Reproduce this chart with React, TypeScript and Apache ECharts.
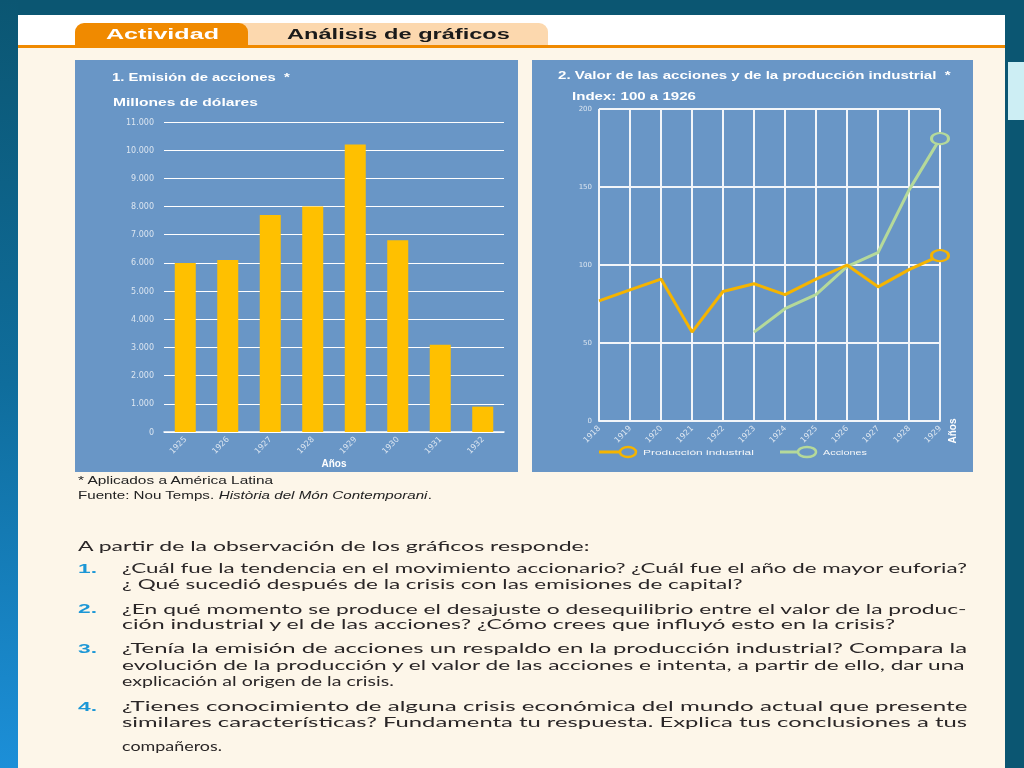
import React, { useEffect, useRef } from "react";
import * as echarts from "echarts";

// ---- Data ----
const emisionYears = ["1925", "1926", "1927", "1928", "1929", "1930", "1931", "1932"];
const emisionValues = [6000, 6100, 7700, 8000, 10200, 6800, 3100, 900];

const indexYears = ["1918", "1919", "1920", "1921", "1922", "1923", "1924", "1925", "1926", "1927", "1928", "1929"];
const produccionIndustrial = [77, 84, 91, 57, 83, 88, 81, 91, 100, 86, 97, 106];
const accionesIndex = [null, null, null, null, null, 57, 72, 81, 99, 108, 148, 181];

const headerTabs = ["Actividad", "Análisis de gráficos"];
const chartTitles = ["1. Emisión de acciones  *", "2. Valor de las acciones y de la producción industrial  *"];
const chartSubtitles = ["Millones de dólares", "Index: 100 a 1926"];
const seriesNames = ["Producción industrial", "Acciones"];
const axisNameYears = "Años";
const footnote = "* Aplicados a América Latina";
const sourceParts = ["Fuente: Nou Temps. ", "Història del Món Contemporani", "."];
const introLine = "A partir de la observación de los gráficos responde:";
const questionNumbers = ["1.", "2.", "3.", "4."];
const questionLines = [
  [
    "¿Cuál fue la tendencia en el movimiento accionario? ¿Cuál fue el año de mayor euforia?",
    "¿ Qué sucedió después de la crisis con las emisiones de capital?",
  ],
  [
    "¿En qué momento se produce el desajuste o desequilibrio entre el valor de la produc-",
    "ción industrial y el de las acciones? ¿Cómo crees que influyó esto en la crisis?",
  ],
  [
    "¿Tenía la emisión de acciones un respaldo en la producción industrial? Compara la",
    "evolución de la producción y el valor de las acciones e intenta, a partir de ello, dar una",
    "explicación al origen de la crisis.",
  ],
  [
    "¿Tienes conocimiento de alguna crisis económica del mundo actual que presente",
    "similares características? Fundamenta tu respuesta. Explica tus conclusiones a tus",
    "compañeros.",
  ],
];

export default function App() {
  const ref = useRef<HTMLDivElement>(null);

  useEffect(() => {
    const chart = echarts.init(ref.current!, null, { renderer: "svg" });

    const canvas = document.createElement("canvas");
    const ctx = canvas.getContext("2d")!;
    const measure = (text: string, size: number, family: string, weight = "normal", style = "normal") => {
      ctx.font = `${style} ${weight} ${size}px "${family}"`;
      return ctx.measureText(text).width;
    };

    const fitText = (
      text: string,
      x: number,
      y: number,
      width: number,
      o: { size: number; family: string; weight?: string; color: string; style?: string }
    ) => {
      const w = measure(text, o.size, o.family, o.weight || "normal", o.style || "normal");
      return {
        type: "text",
        x,
        y,
        scaleX: width / w,
        z: 50,
        style: {
          text,
          x: 0,
          y: 0,
          fill: o.color,
          fontSize: o.size,
          fontFamily: o.family,
          fontWeight: o.weight || "normal",
          fontStyle: o.style || "normal",
          align: "left",
          verticalAlign: "middle",
        },
      };
    };

    const panel = "#6996c6";
    const cream = "#fdf6e9";
    const orange = "#f08a00";
    const prodColor = "#f5b400";
    const accColor = "#b5d99a";
    const labelColor = "#dbe5f0";
    const gridWhite = "#f2f5f9";

    const graphics: any[] = [];
    // page background
    graphics.push({ type: "rect", z: -30, shape: { x: 0, y: 0, width: 1024, height: 768 }, style: { fill: "#0b5672" } });
    graphics.push({
      type: "rect",
      z: -29,
      shape: { x: 0, y: 0, width: 18, height: 768 },
      style: {
        fill: new echarts.graphic.LinearGradient(0, 0, 0, 1, [
          { offset: 0, color: "#0b5672" },
          { offset: 0.5, color: "#0f6d9c" },
          { offset: 1, color: "#1c8fd8" },
        ]),
      },
    });
    graphics.push({ type: "rect", z: -28, shape: { x: 1008, y: 62, width: 16, height: 58 }, style: { fill: "#cdeef4" } });
    graphics.push({ type: "rect", z: -28, shape: { x: 18, y: 15, width: 987, height: 753 }, style: { fill: cream } });
    graphics.push({ type: "rect", z: -27, shape: { x: 18, y: 15, width: 987, height: 31 }, style: { fill: "#ffffff" } });
    // tabs
    graphics.push({ type: "rect", z: -26, shape: { x: 230, y: 23, width: 318, height: 23, r: [0, 9, 0, 0] }, style: { fill: "#fcd8ae" } });
    graphics.push({ type: "rect", z: -25, shape: { x: 75, y: 23, width: 173, height: 23, r: [9, 9, 0, 0] }, style: { fill: orange } });
    graphics.push({ type: "rect", z: -24, shape: { x: 18, y: 45, width: 987, height: 3 }, style: { fill: orange } });
    graphics.push(fitText(headerTabs[0], 106, 34, 113, { size: 15, family: "Liberation Sans", weight: "bold", color: "#ffffff" }));
    graphics.push(fitText(headerTabs[1], 287, 34, 223, { size: 15, family: "Liberation Sans", weight: "bold", color: "#1a1a1a" }));
    // panels
    graphics.push({ type: "rect", z: -20, shape: { x: 75, y: 60, width: 443, height: 412 }, style: { fill: panel } });
    graphics.push({ type: "rect", z: -20, shape: { x: 532, y: 60, width: 441, height: 412 }, style: { fill: panel } });
    // chart titles
    graphics.push(fitText(chartTitles[0], 112, 78, 178, { size: 10, family: "Liberation Sans", weight: "bold", color: "#ffffff" }));
    graphics.push(fitText(chartSubtitles[0], 113, 102, 145, { size: 11, family: "Liberation Sans", weight: "bold", color: "#ffffff" }));
    graphics.push(fitText(chartTitles[1], 558, 75, 393, { size: 10, family: "Liberation Sans", weight: "bold", color: "#ffffff" }));
    graphics.push(fitText(chartSubtitles[1], 572, 96, 124, { size: 11, family: "Liberation Sans", weight: "bold", color: "#ffffff" }));
    // vertical Años on right chart
    graphics.push({
      type: "text",
      x: 952,
      y: 431,
      rotation: Math.PI / 2,
      z: 50,
      style: {
        text: axisNameYears,
        fill: "#ffffff",
        fontSize: 10,
        fontWeight: "bold",
        fontFamily: "Liberation Sans",
        align: "center",
        verticalAlign: "middle",
      },
    });
    // legend
    const legendY = 452;
    graphics.push({ type: "line", z: 40, shape: { x1: 599, y1: legendY, x2: 620, y2: legendY }, style: { stroke: prodColor, lineWidth: 3 } });
    graphics.push({ type: "ellipse", z: 41, shape: { cx: 628, cy: legendY, rx: 8, ry: 5 }, style: { fill: panel, stroke: prodColor, lineWidth: 2.5 } });
    graphics.push(fitText(seriesNames[0], 643, legendY, 111, { size: 8, family: "Liberation Sans", color: "#f4f6f8" }));
    graphics.push({ type: "line", z: 40, shape: { x1: 780, y1: legendY, x2: 799, y2: legendY }, style: { stroke: accColor, lineWidth: 3 } });
    graphics.push({ type: "ellipse", z: 41, shape: { cx: 807, cy: legendY, rx: 9, ry: 5 }, style: { fill: panel, stroke: accColor, lineWidth: 2.5 } });
    graphics.push(fitText(seriesNames[1], 823, legendY, 44, { size: 8, family: "Liberation Sans", color: "#f4f6f8" }));
    // footnotes
    graphics.push(fitText(footnote, 78, 481, 197, { size: 10, family: "Liberation Sans", color: "#222222" }));
    {
      const fs = 10;
      const fam = "Liberation Sans";
      const total =
        measure(sourceParts[0], fs, fam) + measure(sourceParts[1], fs, fam, "normal", "italic") + measure(sourceParts[2], fs, fam);
      graphics.push({
        type: "text",
        x: 78,
        y: 495,
        scaleX: 354 / total,
        z: 50,
        style: {
          text: `{n|${sourceParts[0]}}{i|${sourceParts[1]}}{n|${sourceParts[2]}}`,
          verticalAlign: "middle",
          rich: {
            n: { fontSize: fs, fontFamily: fam, fill: "#222222", color: "#222222" },
            i: { fontSize: fs, fontFamily: fam, fontStyle: "italic", fill: "#222222", color: "#222222" },
          },
        },
      });
    }
    // questions
    const qFont = { size: 14, family: "Lato", color: "#2a2627" };
    graphics.push(fitText(introLine, 78, 545, 513, qFont));
    const lineYs = [
      [568, 584],
      [608, 624],
      [648, 664, 681],
      [706, 722, 745],
    ];
    const lineEnds = [
      [968, 743],
      [968, 897],
      [968, 968, 394],
      [968, 968, 222],
    ];
    questionLines.forEach((lines, qi) => {
      graphics.push(fitText(questionNumbers[qi], 78, lineYs[qi][0], 19, { size: 13, family: "Liberation Sans", weight: "bold", color: "#1c97d6" }));
      lines.forEach((ln, li) => {
        graphics.push(fitText(ln, 122, lineYs[qi][li], lineEnds[qi][li] - 122, qFont));
      });
    });

    const fmtThousands = (v: number) => String(v).replace(/\B(?=(\d{3})+(?!\d))/g, ".");
    const lastIdx = indexYears.length - 1;
    const endMarker = (v: number, color: string) => ({
      value: v,
      symbol: "circle",
      symbolSize: [17, 11],
      itemStyle: { color: panel, borderColor: color, borderWidth: 2.5 },
    });

    const option: any = {
      animation: false,
      graphic: { elements: graphics },
      grid: [
        { left: 164, top: 122, width: 340, height: 310 },
        { left: 599, top: 109, width: 341, height: 312 },
      ],
      xAxis: [
        {
          gridIndex: 0,
          type: "category",
          data: emisionYears,
          axisLine: { lineStyle: { color: "#ffffff", width: 1.5 } },
          axisTick: { show: false },
          axisLabel: { rotate: 45, fontSize: 8, color: labelColor, margin: 6, fontFamily: "DejaVu Sans" },
          name: axisNameYears,
          nameLocation: "middle",
          nameGap: 26,
          nameTextStyle: { color: "#ffffff", fontWeight: "bold", fontSize: 10, fontFamily: "Liberation Sans" },
        },
        {
          gridIndex: 1,
          type: "category",
          data: indexYears,
          boundaryGap: false,
          axisLine: { lineStyle: { color: gridWhite, width: 2 } },
          axisTick: { show: false },
          splitLine: { show: true, lineStyle: { color: gridWhite, width: 2 } },
          axisLabel: { rotate: 45, fontSize: 8, color: labelColor, margin: 6, fontFamily: "DejaVu Sans" },
        },
      ],
      yAxis: [
        {
          gridIndex: 0,
          type: "value",
          min: 0,
          max: 11000,
          interval: 1000,
          axisLine: { show: false },
          axisTick: { show: false },
          axisLabel: { formatter: fmtThousands, fontSize: 8, color: labelColor, margin: 10, fontFamily: "DejaVu Sans" },
          splitLine: { lineStyle: { color: "#ffffff", width: 1.2 } },
        },
        {
          gridIndex: 1,
          type: "value",
          min: 0,
          max: 200,
          interval: 50,
          axisLine: { show: false },
          axisTick: { show: false },
          axisLabel: { fontSize: 7, color: labelColor, margin: 7, fontFamily: "DejaVu Sans" },
          splitLine: { lineStyle: { color: gridWhite, width: 2 } },
        },
      ],
      series: [
        {
          type: "bar",
          xAxisIndex: 0,
          yAxisIndex: 0,
          data: emisionValues,
          barWidth: 21,
          itemStyle: { color: "#ffc000" },
        },
        {
          name: seriesNames[0],
          type: "line",
          xAxisIndex: 1,
          yAxisIndex: 1,
          symbol: "none",
          showSymbol: true,
          lineStyle: { color: prodColor, width: 3 },
          itemStyle: { color: prodColor },
          data: produccionIndustrial.map((v, i) => (i === lastIdx ? endMarker(v, prodColor) : v)),
          z: 5,
        },
        {
          name: seriesNames[1],
          type: "line",
          xAxisIndex: 1,
          yAxisIndex: 1,
          symbol: "none",
          showSymbol: true,
          lineStyle: { color: accColor, width: 3 },
          itemStyle: { color: accColor },
          data: accionesIndex.map((v, i) => (v === null ? "-" : i === lastIdx ? endMarker(v, accColor) : v)),
          z: 4,
        },
      ],
    };

    chart.setOption(option);
    return () => chart.dispose();
  }, []);

  return <div ref={ref} style={{ position: "fixed", left: 0, top: 0, width: 1024, height: 768 }} />;
}
